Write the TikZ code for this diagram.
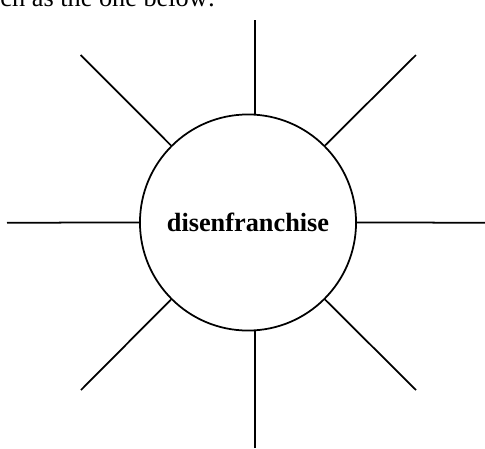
\documentclass[tikz,border=0pt]{standalone}
\usepackage{fontspec}
\setmainfont{Liberation Serif}
\begin{document}
\begin{tikzpicture}[x=0.4563pt,y=-0.4563pt,
  ray/.style={draw=black,line width=0.8pt},
  hub/.style={circle,draw=black,line width=0.8pt,inner sep=0pt,minimum size=98.6pt,font=\bfseries\fontsize{12}{14}\selectfont},
  caption/.style={anchor=base west,inner sep=0pt,font=\fontsize{12}{14}\selectfont}]
\useasboundingbox (0,0) rectangle (485,448);
\clip (0,0) rectangle (485,448);
\node[caption] (cap) at (0,6.5) {ch as the one below:};
\node[hub] (c) at (248,222.5) {disenfranchise};
\coordinate (pt) at (255,20);
\coordinate (pb) at (255,448);
\coordinate (pl) at (7,222.7);
\coordinate (pr) at (485,222.7);
\coordinate (ptl) at (80.7,55);
\coordinate (ptr) at (416,55);
\coordinate (pbl) at (81,390);
\coordinate (pbr) at (416,390);
\draw[ray] (pt) -- (pt |- c.north);
\draw[ray] (pb) -- (pb |- c.south);
\draw[ray] (pl) -- (c.west);
\draw[ray] (pr) -- (c.east);
\draw[ray] (ptl) -- (c.135);
\draw[ray] (ptr) -- (c.45);
\draw[ray] (pbl) -- (c.225);
\draw[ray] (pbr) -- (c.315);
\end{tikzpicture}
\end{document}
